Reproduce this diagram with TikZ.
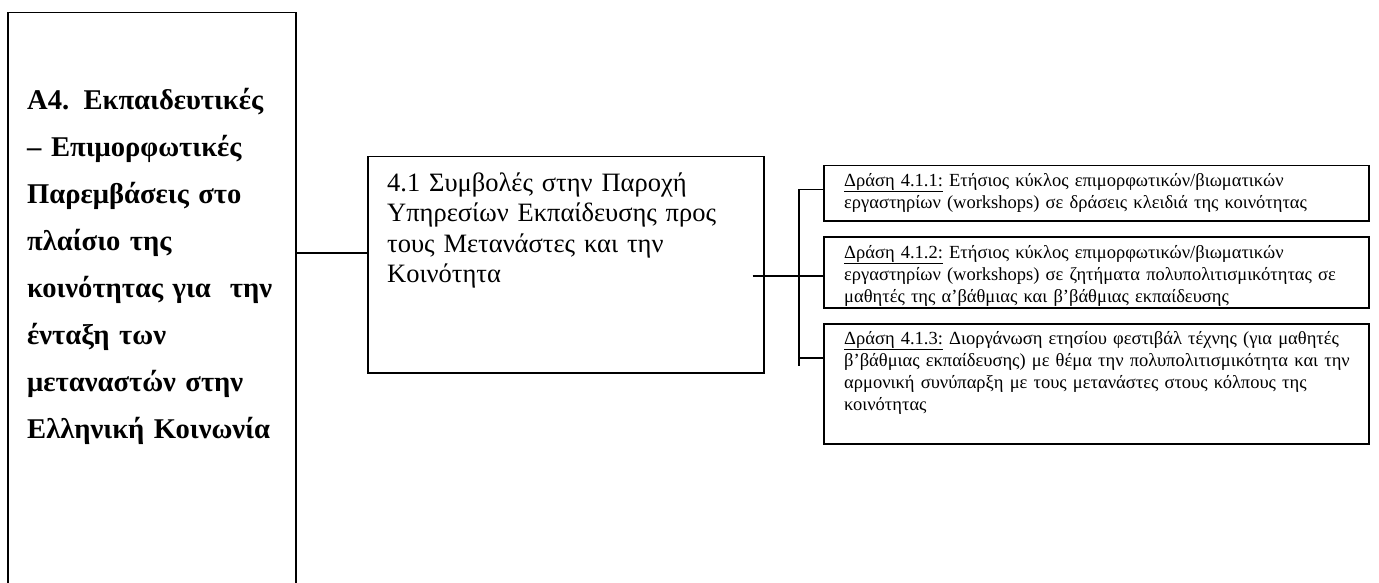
\documentclass[tikz,border=0pt]{standalone}
\usepackage{fontspec}
\setmainfont{Liberation Serif}
\tikzset{
boxline/.style = {draw, line width = 1.5pt, inner sep = 0pt, anchor = north west},
connline/.style = {line width = 1.5pt},
titletext/.style = {font = \bfseries\fontsize{28.6}{47}\selectfont, text width = 275pt, align = left, inner sep = 0pt, anchor = base west},
goaltext/.style = {font = \fontsize{26.5}{30.5}\selectfont, text width = 370pt, align = left, inner sep = 0pt, anchor = base west},
actiontext/.style = {font = \fontsize{18.5}{22}\selectfont, text width = 520pt, align = left, inner sep = 0pt, anchor = base west}}

\begin{document}
\begin{tikzpicture}[x=1pt, y=-1pt]
%
\useasboundingbox (0,0) rectangle (1379,583);
%
%----------------------------------------------------------------------------------
% main axis box (runs off the page)
\node[boxline, minimum width = 288pt, minimum height = 640pt] (pillar) at (7,12) {};
\node[titletext] (pillartext) at ([xshift=20pt, yshift=-98pt]pillar.north west) {A4. Εκπαιδευτικές\\– Επιμορφωτικές\\Παρεμβάσεις στο\\πλαίσιο της\\κοινότητας για~ την\\ένταξη των\\μεταναστών στην\\Ελληνική Κοινωνία};
%
% measure box
\node[boxline, minimum width = 396pt, minimum height = 216pt] (measure) at (367,156) {};
\node[goaltext] (measuretext) at ([xshift=20pt, yshift=-35pt]measure.north west) {4.1 Συμβολές στην Παροχή\\Υπηρεσίων Εκπαίδευσης προς\\τους Μετανάστες και την\\Κοινότητα};
%----------------------------------------------------------------------------------
%
%----------------------------------------------------------------------------------
% action boxes
\node[boxline, minimum width = 545pt, minimum height = 55pt] (act1) at (823,165) {};
\node[boxline, minimum width = 545pt, minimum height = 71pt] (act2) at (823,236) {};
\node[boxline, minimum width = 545pt, minimum height = 120pt] (act3) at (823,323) {};
%
\node[actiontext] (act1text) at ([xshift=21pt, yshift=-21pt]act1.north west) {\underline{Δράση 4.1.1:} Ετήσιος κύκλος επιμορφωτικών/βιωματικών\\εργαστηρίων (workshops) σε δράσεις κλειδιά της κοινότητας};
\node[actiontext] (act2text) at ([xshift=21pt, yshift=-22pt]act2.north west) {\underline{Δράση 4.1.2:} Ετήσιος κύκλος επιμορφωτικών/βιωματικών\\εργαστηρίων (workshops) σε ζητήματα πολυπολιτισμικότητας σε\\μαθητές της α’βάθμιας και β’βάθμιας εκπαίδευσης};
\node[actiontext] (act3text) at ([xshift=21pt, yshift=-21pt]act3.north west) {\underline{Δράση 4.1.3:} Διοργάνωση ετησίου φεστιβάλ τέχνης (για μαθητές\\β’βάθμιας εκπαίδευσης) με θέμα την πολυπολιτισμικότητα και την\\αρμονική συνύπαρξη με τους μετανάστες στους κόλπους της\\κοινότητας};
%----------------------------------------------------------------------------------
%
% connectors
\coordinate (lk) at ([yshift=12pt]measure.west);
\coordinate (bus) at (799,276);
\coordinate (b1) at ([yshift=4pt]act1.west);
\coordinate (b3) at ([yshift=26pt]act3.west);
\draw[connline] (pillar.east |- lk) -- (lk);
\draw[connline] ([xshift=-12pt]measure.east |- bus) -- (act2.west |- bus);
\draw[connline] (b1) -| (bus |- b3) -- (b3);
\draw[connline] (bus |- b3) -- ++(0,8);
%
\end{tikzpicture}
\end{document}
